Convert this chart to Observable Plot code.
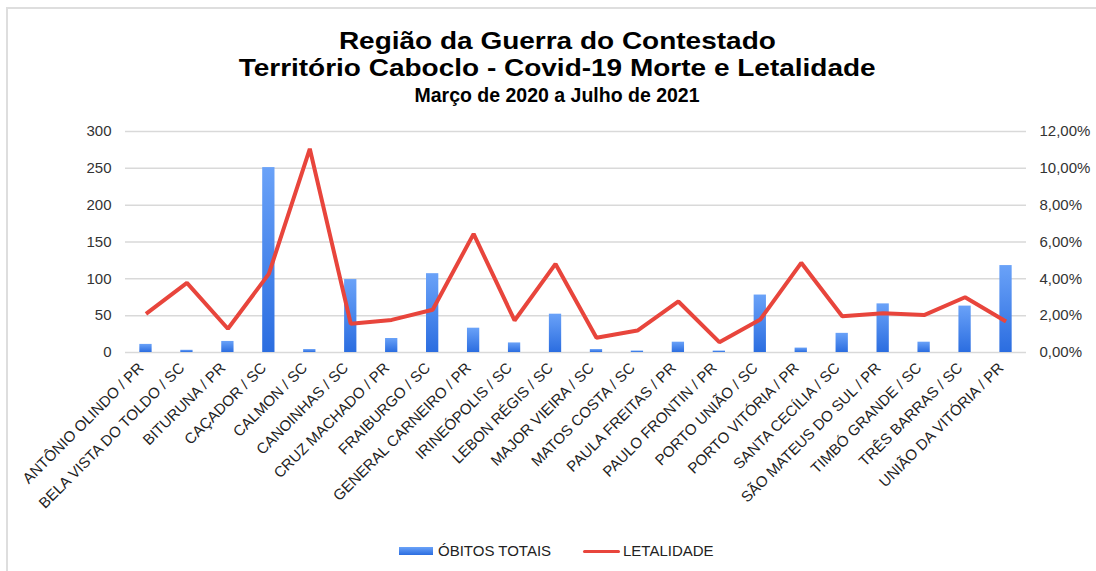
<!DOCTYPE html>
<html>
<head>
<meta charset="utf-8">
<script src="https://cdn.jsdelivr.net/npm/d3@7"></script>
<script src="https://cdn.jsdelivr.net/npm/@observablehq/plot@0.6"></script>
<style>
  html, body { margin: 0; padding: 0; background: #fff; }
  body { width: 1096px; height: 571px; overflow: hidden; position: relative; font-family: "Liberation Sans", Arial, sans-serif; }
  .frame { position: absolute; left: 6px; top: 7px; width: 1200px; height: 700px; border-top: 2px solid #dedede; border-left: 2px solid #dedede; }
  .t { position: absolute; left: 0; width: 1114px; text-align: center; font-weight: bold; color: #000; white-space: nowrap; }
  .t span { display: inline-block; transform-origin: center; }
  .t1 { font-size: 24px; line-height: 24px; top: 29px; }
  .t2 { font-size: 24px; line-height: 24px; top: 56px; }
  .t1 span, .t2 span { transform: scaleX(1.166); }
  .t3 { font-size: 19.5px; line-height: 19.5px; top: 86px; }
  #chart { position: absolute; left: 0; top: 115px; }
  .legend { position: absolute; top: 541px; left: 0; width: 1096px; font-size: 15px; color: #222; }
  .legend .sw1 { position: absolute; left: 399px; top: 6px; width: 34px; height: 8px; background: linear-gradient(#6aa2f8, #2b6de0); }
  .legend .lb1 { position: absolute; left: 438px; top: 0; line-height: 20px; }
  .legend .sw2 { position: absolute; left: 583px; top: 9px; width: 37px; height: 3px; background: #e8453c; border-radius: 2px; }
  .legend .lb2 { position: absolute; left: 623px; top: 0; line-height: 20px; }
</style>
</head>
<body>
<div class="frame"></div>
<div class="t t1"><span>Região da Guerra do Contestado</span></div>
<div class="t t2"><span>Território Caboclo - Covid-19 Morte e Letalidade</span></div>
<div class="t t3"><span>Março de 2020 a Julho de 2021</span></div>
<div id="chart"></div>
<div class="legend">
  <div class="sw1"></div><div class="lb1">ÓBITOS TOTAIS</div>
  <div class="sw2"></div><div class="lb2">LETALIDADE</div>
</div>
<script>
const municipios = [
  "ANTÔNIO OLINDO / PR", "BELA VISTA DO TOLDO / SC", "BITURUNA / PR", "CAÇADOR / SC",
  "CALMON / SC", "CANOINHAS / SC", "CRUZ MACHADO / PR", "FRAIBURGO / SC",
  "GENERAL CARNEIRO / PR", "IRINEÓPOLIS / SC", "LEBON RÉGIS / SC", "MAJOR VIEIRA / SC",
  "MATOS COSTA / SC", "PAULA FREITAS / PR", "PAULO FRONTIN / PR", "PORTO UNIÃO / SC",
  "PORTO VITÓRIA / PR", "SANTA CECÍLIA / SC", "SÃO MATEUS DO SUL / PR", "TIMBÓ GRANDE / SC",
  "TRÊS BARRAS / SC", "UNIÃO DA VITÓRIA / PR"
];
const obitosTotais = [11, 3, 15, 251, 4, 99, 19, 107, 33, 13, 52, 4, 2, 14, 2, 78, 6, 26, 66, 14, 63, 118];
const letalidade = [2.10, 3.78, 1.29, 4.27, 11.06, 1.56, 1.77, 2.32, 6.44, 1.74, 4.81, 0.80, 1.19, 2.77, 0.56, 1.79, 4.87, 1.97, 2.13, 2.03, 3.00, 1.68];
const leftTicks = [0, 50, 100, 150, 200, 250, 300];
const rightTicks = [0, 2, 4, 6, 8, 10, 12];

const data = municipios.map((m, i) => ({municipio: m, obitos: obitosTotais[i], letalidade: letalidade[i]}));
const ratio = 300 / 12; // right axis (percent) mapped onto the left scale

const plot = Plot.plot({
  width: 1096,
  height: 420,
  marginLeft: 125,
  marginRight: 70,
  marginTop: 16,
  marginBottom: 183,
  style: {fontFamily: "'Liberation Sans', Arial, sans-serif", background: "transparent"},
  x: {domain: municipios, paddingInner: 0.7, paddingOuter: 0.35, round: false, label: null},
  y: {domain: [0, 300], label: null},
  marks: [
    Plot.gridY(leftTicks, {stroke: "#d9d9d9", strokeOpacity: 1, strokeWidth: 1.5}),
    Plot.axisY(leftTicks, {anchor: "left", tickSize: 0, tickPadding: 14, fontSize: 15, fill: "#333", label: null}),
    Plot.axisY(rightTicks.map(t => t * ratio), {anchor: "right", tickSize: 0, tickPadding: 13, fontSize: 15, fill: "#333", label: null,
      tickFormat: d => (d / ratio).toFixed(2).replace(".", ",") + "%"}),
    Plot.axisX({tickRotate: -45, tickSize: 0, tickPadding: 13, dx: -5, fontSize: 15, fill: "#222", label: null}),
    Plot.barY(data, {x: "municipio", y: "obitos", fill: "url(#barGrad)"}),
    Plot.line(data, {x: "municipio", y: d => d.letalidade * ratio, stroke: "#e8453c", strokeWidth: 4, strokeLinejoin: "miter", strokeLinecap: "butt"})
  ]
});

const ns = "http://www.w3.org/2000/svg";
const defs = document.createElementNS(ns, "defs");
const grad = document.createElementNS(ns, "linearGradient");
grad.setAttribute("id", "barGrad");
grad.setAttribute("x1", "0"); grad.setAttribute("y1", "0");
grad.setAttribute("x2", "0"); grad.setAttribute("y2", "1");
[["0%", "#6aa2f8"], ["100%", "#2b6de0"]].forEach(([o, c]) => {
  const s = document.createElementNS(ns, "stop");
  s.setAttribute("offset", o); s.setAttribute("stop-color", c);
  grad.appendChild(s);
});
defs.appendChild(grad);
plot.insertBefore(defs, plot.firstChild);
document.getElementById("chart").appendChild(plot);
</script>
</body>
</html>
